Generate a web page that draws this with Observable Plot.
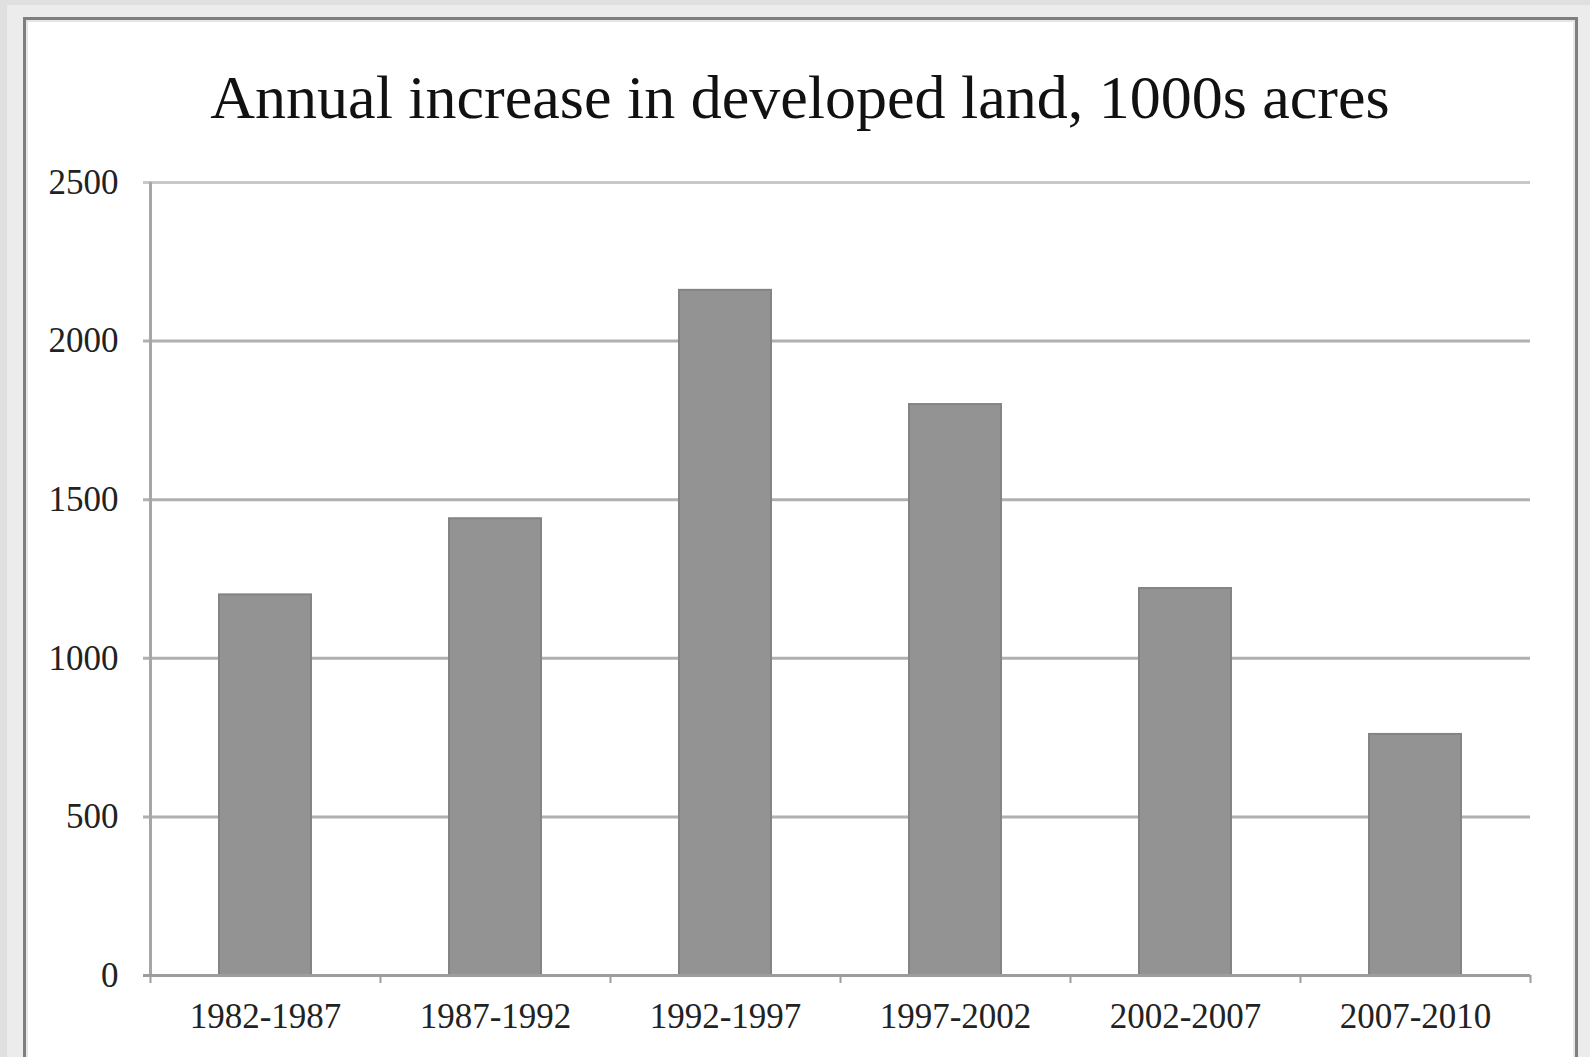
<!DOCTYPE html>
<html><head><meta charset="utf-8">
<script src="https://cdn.jsdelivr.net/npm/d3@7"></script>
<script src="https://cdn.jsdelivr.net/npm/@observablehq/plot@0.6"></script>
<style>
html,body{margin:0;padding:0;}
body{width:1590px;height:1057px;background:#ececec;position:relative;overflow:hidden;}
#stripeL{position:absolute;left:0;top:0;width:7px;height:1057px;background:#e0e0e0}
#stripeT{position:absolute;left:0;top:0;width:1590px;height:5px;background:#e0e0e0}
#frame{position:absolute;left:23px;top:17px;width:1549px;height:1100px;background:#fff;border:3px solid #7f7f7f;border-bottom:none;box-shadow: inset 2px 2px 0 #e6e6e6, inset -2px 0 0 #e6e6e6;}
#title{position:absolute;left:0;width:1600px;top:66px;text-align:center;font-family:"Liberation Serif",serif;font-size:62px;line-height:62px;color:#111;white-space:nowrap;}
#chart{position:absolute;left:0;top:140px;}
</style>
</head><body>
<div id="stripeL"></div><div id="stripeT"></div>
<div id="frame"></div>
<div id="title">Annual increase in developed land, 1000s acres</div>
<div id="chart"></div>
<script>
const categories = ["1982-1987","1987-1992","1992-1997","1997-2002","2002-2007","2007-2010"];
const values = [1200, 1440, 2160, 1800, 1220, 760];
const yTicks = [0, 500, 1000, 1500, 2000, 2500];

const W = 1590, H = 917, mL = 150, mR = 60, mT = 42, mB = 82;
const halfStep = (W - mL - mR) / categories.length / 2;
const data = categories.map((c, i) => ({period: c, value: values[i]}));
const topTick = yTicks[yTicks.length - 1];

const chart = Plot.plot({
  width: W, height: H,
  marginLeft: mL, marginRight: mR, marginTop: mT, marginBottom: mB,
  style: {background: "transparent", fontFamily: "'Liberation Serif', serif", fontSize: "35px", color: "#222"},
  x: {domain: categories, paddingInner: 0.6, paddingOuter: 0.3, tickSize: 0, tickPadding: 28, label: null},
  y: {domain: [0, topTick], ticks: yTicks, tickFormat: d3.format("d"), tickSize: 0, tickPadding: 32, label: null},
  marks: [
    Plot.ruleY(yTicks.filter(t => t > 0 && t < topTick), {y: d => d, stroke: "#b0b0b0", strokeWidth: 3, insetLeft: -7}),
    Plot.ruleY([topTick], {y: d => d, stroke: "#c8c8c8", strokeWidth: 3, insetLeft: -7}),
    Plot.ruleX([categories[0]], {x: d => d, dx: -halfStep, y1: 0, y2: topTick, stroke: "#a6a6a6", strokeWidth: 3}),
    Plot.barY(data, {x: "period", y: "value", fill: "#939393", stroke: "#848484", strokeWidth: 2}),
    Plot.ruleY([0], {y: d => d, stroke: "#9c9c9c", strokeWidth: 3, insetLeft: -7}),
    Plot.ruleX(categories, {x: d => d, dx: -halfStep, y1: 0, y2: 0, insetBottom: -8, stroke: "#9c9c9c", strokeWidth: 2}),
    Plot.ruleX([categories[categories.length - 1]], {x: d => d, dx: halfStep, y1: 0, y2: 0, insetBottom: -8, stroke: "#9c9c9c", strokeWidth: 2})
  ]
});
document.getElementById("chart").appendChild(chart);
</script>
</body></html>
